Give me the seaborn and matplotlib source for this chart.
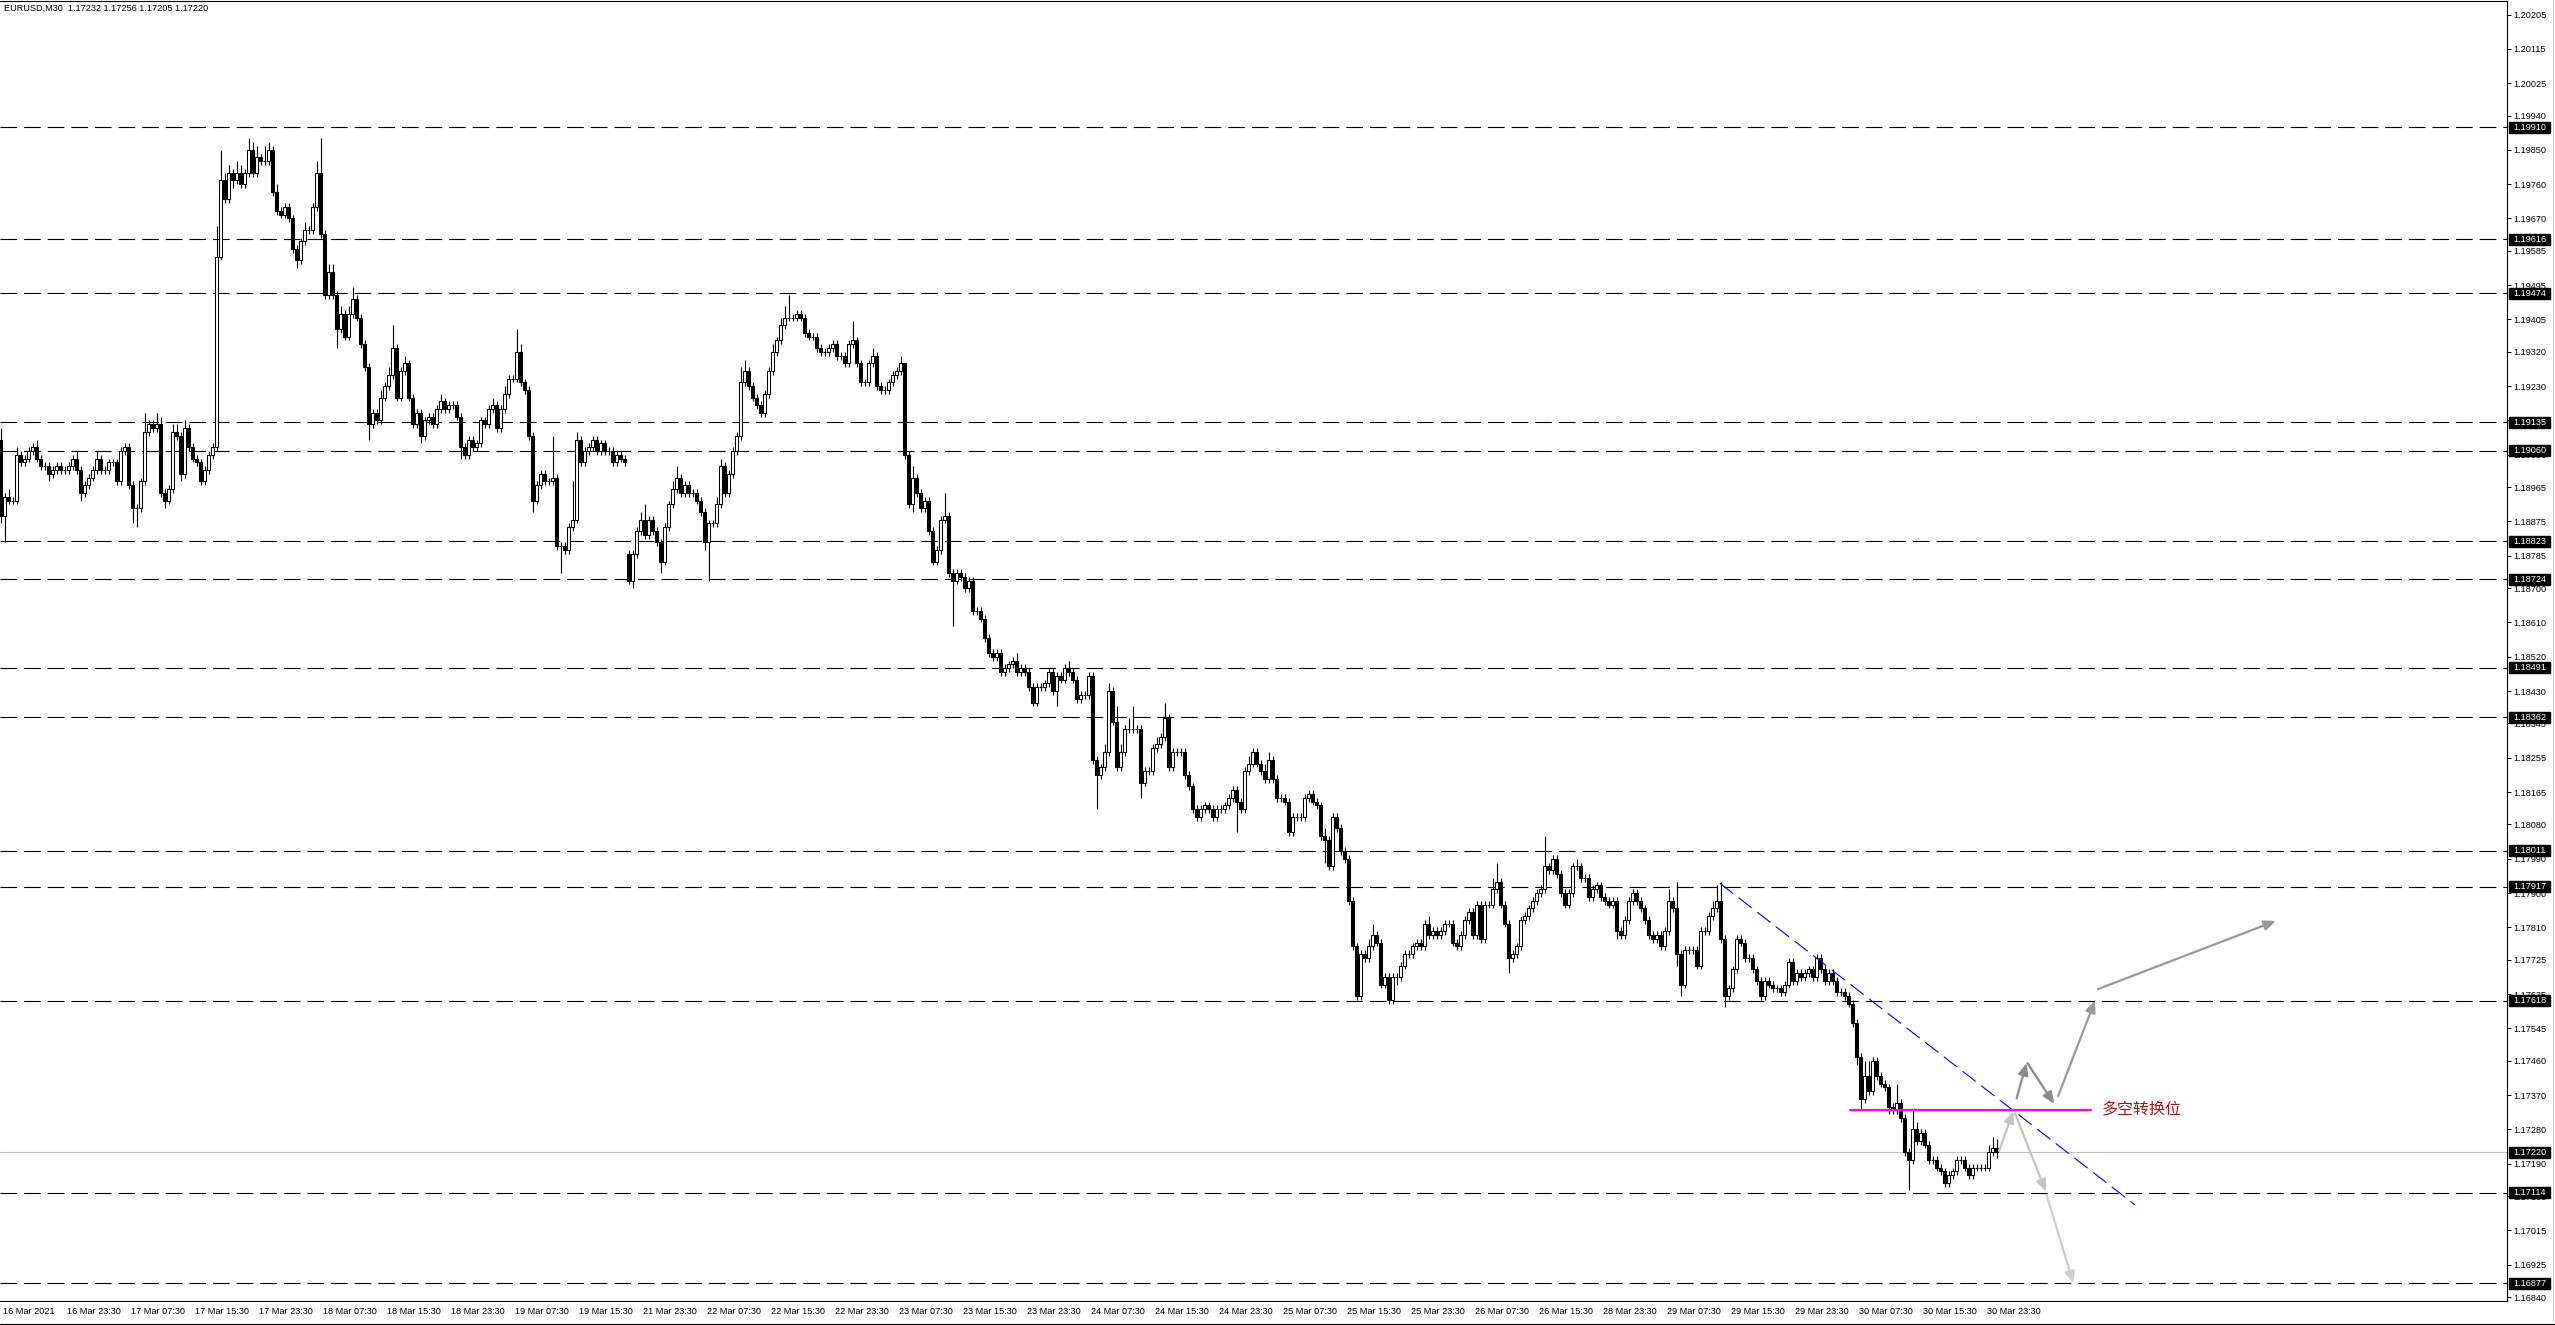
import numpy as np
import pandas as pd
import matplotlib
matplotlib.use("Agg")
import matplotlib.pyplot as plt
import matplotlib.transforms as mtransforms
from matplotlib.patches import Rectangle
from matplotlib.lines import Line2D
import seaborn as sns

sns.set_style("white")
plt.rcParams["font.family"] = ["Liberation Sans", "DejaVu Sans"]
plt.rcParams["lines.scale_dashes"] = False

# ---------------------------------------------------------------
# data: EURUSD M30 closes
# ---------------------------------------------------------------
closes_a = [  # 16 Mar 15:30 ... 22 Mar
    1.1889, 1.1894, 1.1893, 1.1893, 1.1905, 1.1903, 1.1904, 1.1906, 1.1907, 1.1904,
    1.1902, 1.1902, 1.1900, 1.1901, 1.1902, 1.1901, 1.1901, 1.1902, 1.1904, 1.1901,
    1.1895, 1.1897, 1.1899, 1.1901, 1.1904, 1.1901, 1.1901, 1.1903, 1.1903, 1.1898,
    1.1906, 1.1907, 1.1897, 1.1891, 1.1891, 1.1898, 1.1911, 1.1913, 1.1912, 1.1913,
    1.1895, 1.1893, 1.1896, 1.1911, 1.1910, 1.1900, 1.1912, 1.1907, 1.1904, 1.1903,
    1.1898, 1.1901, 1.1905, 1.1907, 1.1957, 1.1977, 1.1972, 1.1979, 1.1977, 1.1979,
    1.1976, 1.1979, 1.1985, 1.1979, 1.1983, 1.1982, 1.1982, 1.1985, 1.1974, 1.1969,
    1.1968, 1.1970, 1.1967, 1.1959, 1.1956, 1.1961, 1.1964, 1.1964, 1.1970, 1.1979,
    1.1963, 1.1947, 1.1953, 1.1947, 1.1938, 1.1942, 1.1936, 1.1942, 1.1946, 1.1941,
    1.1934, 1.1928, 1.1913, 1.1916, 1.1914, 1.1920, 1.1923, 1.1926, 1.1933, 1.1920,
    1.1927, 1.1929, 1.1920, 1.1913, 1.1916, 1.1910, 1.1914, 1.1915, 1.1913, 1.1917,
    1.1919, 1.1917, 1.1918, 1.1918, 1.1915, 1.1907, 1.1905, 1.1909, 1.1907, 1.1908,
    1.1914, 1.1913, 1.1917, 1.1918, 1.1912, 1.1917, 1.1921, 1.1925, 1.1925, 1.1932,
    1.1924, 1.1922, 1.1910, 1.1893, 1.1897, 1.1900, 1.1898, 1.1898, 1.1899, 1.1881,
    1.1881, 1.1880, 1.1886, 1.1888, 1.1909, 1.1903, 1.1906, 1.1907, 1.1909, 1.1906,
    1.1908, 1.1906, 1.1906, 1.1903, 1.1905, 1.1904, 1.1903, 1.1872, 1.1879, 1.1885,
    1.1888, 1.1884, 1.1888, 1.1885, 1.1882, 1.1877, 1.1886, 1.1892, 1.1896, 1.1899,
    1.1895, 1.1897, 1.1895,
]
closes_b = [  # 22 Mar ... 25 Mar
    1.1895, 1.1893, 1.1890, 1.1882, 1.1887, 1.1887, 1.1892, 1.1902, 1.1895, 1.1900,
    1.1906, 1.1910, 1.1924, 1.1927, 1.1923, 1.1920, 1.1918, 1.1916, 1.1921, 1.1927,
    1.1932, 1.1935, 1.1939, 1.1941, 1.1941, 1.1941, 1.1942, 1.1941, 1.1937, 1.1936,
    1.1936, 1.1933, 1.1932, 1.1932, 1.1933, 1.1934, 1.1931, 1.1931, 1.1929, 1.1934,
    1.1935, 1.1929, 1.1924, 1.1924, 1.1929, 1.1931, 1.1923, 1.1922, 1.1922, 1.1924,
    1.1926, 1.1927, 1.1929, 1.1905, 1.1892, 1.1899, 1.1895, 1.1891, 1.1893, 1.1885,
    1.1877, 1.1880, 1.1888, 1.1889, 1.1874, 1.1872, 1.1874, 1.1873, 1.1870, 1.1872,
    1.1864, 1.1864, 1.1862, 1.1857, 1.1853, 1.1852, 1.1853, 1.1848, 1.1849, 1.1850,
    1.1851, 1.1848, 1.1849, 1.1848, 1.1844, 1.1840, 1.1844, 1.1844, 1.1845, 1.1848,
    1.1843, 1.1847, 1.1846, 1.1849, 1.1848, 1.1846, 1.1841, 1.1842, 1.1842, 1.1847,
    1.1825, 1.1821, 1.1823, 1.1827, 1.1843, 1.1835, 1.1823, 1.1827, 1.1833, 1.1833,
    1.1833, 1.1833, 1.1819, 1.1822, 1.1822, 1.1828, 1.1829, 1.1831, 1.1836, 1.1823,
    1.1827, 1.1827, 1.1827, 1.1821, 1.1818, 1.1812, 1.1810, 1.1812, 1.1813, 1.1812,
    1.1810, 1.1812, 1.1812, 1.1813, 1.1815, 1.1817, 1.1814, 1.1812, 1.1822, 1.1824,
    1.1827, 1.1824, 1.1822, 1.1820, 1.1825, 1.1820, 1.1815, 1.1815, 1.1814, 1.1806,
    1.1810, 1.1810, 1.1810, 1.1815, 1.1816, 1.1814, 1.1813, 1.1805, 1.1804, 1.1797,
    1.1810, 1.1807, 1.1801, 1.1799, 1.1788, 1.1776, 1.1763, 1.1774, 1.1773, 1.1776,
]
closes_c = [  # 25 Mar ... 31 Mar
    1.1779, 1.1777, 1.1766, 1.1768, 1.1762, 1.1768, 1.1768, 1.1771, 1.1774, 1.1774,
    1.1776, 1.1777, 1.1776, 1.1782, 1.1779, 1.1780, 1.1779, 1.1780, 1.1782, 1.1782,
    1.1777, 1.1776, 1.1779, 1.1783, 1.1785, 1.1779, 1.1787, 1.1778, 1.1787, 1.1787,
    1.1791, 1.1793, 1.1787, 1.1782, 1.1773, 1.1774, 1.1776, 1.1783, 1.1784, 1.1786,
    1.1788, 1.1790, 1.1791, 1.1797, 1.1796, 1.1799, 1.1795, 1.1790, 1.1787, 1.1790,
    1.1797, 1.1797, 1.1794, 1.1794, 1.1789, 1.1791, 1.1792, 1.1789, 1.1788, 1.1787,
    1.1788, 1.1780, 1.1779, 1.1783, 1.1788, 1.1790, 1.1788, 1.1786, 1.1783, 1.1779,
    1.1778, 1.1779, 1.1776, 1.1780, 1.1788, 1.1786, 1.1774, 1.1766, 1.1775, 1.1775,
    1.1775, 1.1771, 1.1780, 1.1780, 1.1784, 1.1786, 1.1788, 1.1778, 1.1763, 1.1765,
    1.1770, 1.1778, 1.1777, 1.1773, 1.1773, 1.1770, 1.1767, 1.1763, 1.1767, 1.1766,
    1.1765, 1.1765, 1.1764, 1.1766, 1.1772, 1.1767, 1.1769, 1.1768, 1.1769, 1.1770,
    1.1768, 1.1773, 1.1770, 1.1767, 1.1769, 1.1767, 1.1764, 1.1764, 1.1763, 1.1761,
    1.1756, 1.1747, 1.1736, 1.1742, 1.1738, 1.1746, 1.1742, 1.1740, 1.1739, 1.1734,
    1.1733, 1.1735, 1.1731, 1.1722, 1.1720, 1.1728, 1.1725, 1.1727, 1.1724, 1.1720,
    1.1720, 1.1718, 1.1717, 1.1714, 1.1716, 1.1717, 1.1720, 1.1720, 1.1718, 1.1716,
    1.1718, 1.1718, 1.1718, 1.1718, 1.1722, 1.1723, 1.17220,
]
first_open = 1.1909
gap_opens = {157: 1.1879}           # Monday open after the weekend
last_ohlc = (1.17232, 1.17256, 1.17205, 1.17220)

# wick lengths in pips above / below the body
up_wick = [
    3, 1, 2, 1, 2, 1, 1, 1, 1, 2, 1, 1, 1, 1, 1, 1, 1, 1, 1, 2,
    1, 1, 1, 1, 2, 1, 1, 1, 1, 1, 1, 1, 1, 1, 1, 1, 5, 1, 1, 3,
    2, 1, 1, 2, 2, 1, 2, 1, 1, 1, 1, 1, 1, 1, 8, 8, 2, 2, 1, 3,
    2, 1, 3, 2, 3, 1, 4, 2, 1, 2, 1, 1, 1, 1, 1, 1, 2, 1, 1, 3,
    9, 1, 2, 2, 1, 2, 1, 2, 3, 1, 1, 1, 1, 1, 1, 2, 1, 2, 6, 1,
    1, 2, 1, 1, 1, 1, 1, 1, 1, 1, 2, 1, 1, 1, 1, 1, 1, 1, 1, 1,
    1, 1, 1, 2, 1, 1, 2, 1, 1, 6, 2, 1, 1, 1, 1, 1, 1, 1, 11, 1,
    1, 1, 1, 10, 2, 1, 1, 1, 1, 1, 1, 1, 1, 1, 1, 1, 1, 1, 1, 1,
    2, 4, 1, 1, 1, 1, 1, 1, 2, 3, 1, 1, 1, 1, 1, 1, 1, 1, 1, 2,
    2, 1, 1, 1, 1, 4, 3, 1, 1, 1, 1, 1, 1, 2, 1, 2, 3, 6, 1, 1,
    1, 1, 1, 1, 1, 1, 1, 1, 1, 1, 1, 1, 1, 5, 1, 1, 1, 1, 2, 1,
    1, 1, 1, 1, 1, 2, 0, 1, 3, 1, 1, 1, 1, 1, 1, 1, 6, 1, 1, 1,
    1, 1, 1, 1, 1, 1, 1, 1, 1, 1, 1, 1, 1, 1, 2, 1, 1, 1, 1, 1,
    1, 1, 1, 1, 1, 1, 1, 2, 1, 1, 1, 1, 1, 1, 1, 1, 2, 2, 1, 4,
    2, 1, 3, 6, 1, 1, 1, 1, 1, 2, 1, 4, 1, 1, 1, 1, 1, 1, 1, 1,
    1, 1, 1, 1, 1, 1, 1, 1, 1, 1, 1, 1, 2, 1, 1, 1, 2, 2, 1, 1,
    1, 1, 1, 1, 1, 1, 1, 1, 1, 1, 1, 2, 1, 1, 1, 1, 1, 1, 1, 1,
    1, 1, 2, 3, 1, 1, 1, 1, 1, 1, 1, 1, 1, 1, 1, 1, 1, 2, 1, 1,
    1, 1, 1, 1, 1, 1, 1, 1, 1, 1, 1, 1, 1, 3, 5, 1, 1, 1, 1, 1,
    1, 1, 1, 1, 1, 1, 8, 1, 1, 1, 1, 1, 1, 1, 2, 1, 1, 1, 1, 1,
    1, 1, 1, 1, 1, 1, 1, 1, 1, 1, 1, 1, 1, 1, 1, 1, 1, 3, 1, 7,
    1, 1, 1, 1, 1, 1, 1, 1, 2, 4, 5, 1, 1, 1, 1, 1, 1, 1, 1, 1,
    1, 1, 1, 1, 1, 1, 1, 1, 1, 1, 1, 1, 1, 1, 1, 1, 1, 1, 1, 1,
    1, 1, 1, 1, 1, 1, 4, 4, 1, 1, 1, 1, 1, 1, 5, 1, 1, 1, 5, 2,
    1, 1, 1, 1, 1, 1, 1, 1, 1, 1, 1, 1, 1, 1, 1, 1, 1, 2, 3, 2,
]
down_wick = [
    2, 7, 1, 1, 1, 1, 1, 1, 1, 1, 1, 1, 2, 1, 1, 1, 1, 1, 1, 1,
    2, 1, 1, 1, 1, 1, 1, 1, 1, 1, 1, 1, 1, 4, 5, 1, 1, 1, 1, 1,
    1, 2, 1, 1, 1, 2, 1, 1, 1, 1, 1, 1, 1, 1, 1, 1, 1, 1, 2, 1,
    1, 1, 1, 1, 1, 1, 1, 1, 1, 1, 1, 1, 1, 1, 2, 1, 1, 1, 1, 1,
    1, 1, 1, 1, 5, 1, 1, 1, 1, 1, 1, 1, 4, 1, 1, 1, 1, 1, 1, 1,
    1, 1, 1, 1, 1, 2, 1, 1, 1, 1, 1, 1, 1, 1, 1, 3, 1, 1, 1, 1,
    1, 1, 1, 1, 1, 1, 1, 1, 1, 1, 1, 1, 1, 3, 1, 1, 1, 1, 1, 1,
    7, 1, 1, 1, 1, 1, 1, 1, 1, 1, 1, 1, 1, 1, 1, 1, 1, 1, 2, 1,
    1, 1, 1, 1, 1, 3, 1, 1, 1, 1, 1, 1, 1, 1, 1, 1, 2, 10, 1, 1,
    1, 1, 1, 1, 1, 1, 1, 1, 1, 1, 1, 1, 1, 1, 1, 1, 1, 1, 1, 1,
    1, 1, 1, 1, 1, 1, 1, 1, 1, 1, 1, 1, 1, 1, 1, 1, 1, 1, 1, 1,
    1, 1, 1, 1, 1, 1, 1, 1, 2, 1, 1, 1, 1, 1, 1, 1, 1, 1, 12, 1,
    1, 1, 1, 1, 1, 1, 1, 1, 1, 1, 1, 1, 1, 1, 1, 1, 1, 1, 1, 1,
    1, 1, 1, 1, 4, 1, 1, 1, 1, 1, 1, 1, 1, 1, 9, 1, 1, 1, 1, 1,
    1, 1, 1, 1, 1, 4, 1, 1, 1, 1, 1, 1, 1, 1, 1, 1, 1, 1, 1, 1,
    1, 1, 1, 1, 1, 1, 1, 1, 1, 8, 1, 1, 1, 1, 1, 1, 1, 1, 1, 1,
    1, 1, 1, 1, 1, 1, 1, 1, 1, 1, 1, 6, 1, 1, 1, 1, 1, 1, 1, 1,
    1, 1, 1, 1, 1, 1, 1, 1, 1, 2, 1, 1, 1, 1, 1, 1, 1, 1, 1, 1,
    1, 1, 1, 1, 1, 1, 1, 1, 1, 1, 1, 1, 1, 1, 1, 1, 1, 4, 1, 1,
    1, 1, 1, 1, 1, 1, 1, 1, 1, 1, 1, 1, 1, 1, 1, 1, 1, 1, 1, 1,
    1, 1, 1, 1, 2, 1, 1, 1, 1, 1, 1, 1, 1, 1, 1, 1, 1, 1, 1, 3,
    3, 1, 1, 1, 1, 1, 1, 1, 1, 1, 1, 3, 1, 1, 1, 1, 1, 1, 1, 1,
    1, 1, 1, 1, 1, 1, 1, 1, 1, 1, 1, 1, 1, 1, 1, 1, 1, 1, 1, 1,
    1, 1, 1, 1, 2, 3, 1, 1, 1, 1, 1, 1, 2, 1, 1, 1, 1, 8, 1, 1,
    1, 1, 1, 1, 1, 1, 1, 1, 1, 1, 1, 1, 1, 1, 1, 1, 1, 1, 1, 2,
]

# horizontal support / resistance levels
levels = [1.19910, 1.19616, 1.19474, 1.19135, 1.19060, 1.18823, 1.18724,
          1.18491, 1.18362, 1.18011, 1.17917, 1.17618, 1.17114, 1.16877]
bid = 1.17220

price_ticks = [1.20205, 1.20115, 1.20025, 1.19940, 1.19850, 1.19760, 1.19670,
               1.19585, 1.19495, 1.19405, 1.19320, 1.19230, 1.19140, 1.19050,
               1.18965, 1.18875, 1.18785, 1.18700, 1.18610, 1.18520, 1.18430,
               1.18345, 1.18255, 1.18165, 1.18080, 1.17990, 1.17900, 1.17810,
               1.17725, 1.17635, 1.17545, 1.17460, 1.17370, 1.17280, 1.17190,
               1.17105, 1.17015, 1.16925, 1.16840]

time_labels = ["16 Mar 2021", "16 Mar 23:30", "17 Mar 07:30", "17 Mar 15:30",
               "17 Mar 23:30", "18 Mar 07:30", "18 Mar 15:30", "18 Mar 23:30",
               "19 Mar 07:30", "19 Mar 15:30", "21 Mar 23:30", "22 Mar 07:30",
               "22 Mar 15:30", "22 Mar 23:30", "23 Mar 07:30", "23 Mar 15:30",
               "23 Mar 23:30", "24 Mar 07:30", "24 Mar 15:30", "24 Mar 23:30",
               "25 Mar 07:30", "25 Mar 15:30", "25 Mar 23:30", "26 Mar 07:30",
               "26 Mar 15:30", "28 Mar 23:30", "29 Mar 07:30", "29 Mar 15:30",
               "29 Mar 23:30", "30 Mar 07:30", "30 Mar 15:30", "30 Mar 23:30"]
bars_per_label = 16

# drawn objects (bar index, price)
trend_bars = [429.8, 533.6]
trend_prices = [1.17926, 1.17082]
pivot_bars = [462.3, 522.6]
pivot_price = 1.17332
pivot_text = "多空转换位"
arrow_x0 = [499.6, 503.6, 511.5, 504.0, 506.7, 514.4, 524.3]
arrow_y0 = [1.17224, 1.17322, 1.17108, 1.17362, 1.17454, 1.17368, 1.17648]
arrow_x1 = [503.2, 511.3, 518.2, 506.5, 513.4, 523.6, 568.8]
arrow_y1 = [1.17328, 1.17117, 1.16876, 1.17454, 1.17347, 1.17618, 1.17827]
arrow_col = ["#c4c4c4", "#c4c4c4", "#cdcdcd", "#8c8c8c", "#8c8c8c",
             "#999999", "#999999"]

# ---------------------------------------------------------------
closes = closes_a + closes_b + closes_c
opens = [first_open] + closes[:-1]
for k, v in gap_opens.items():
    opens[k] = v
opens[-1] = last_ohlc[0]
df = pd.DataFrame({"o": opens, "c": closes})
df["h"] = df[["o", "c"]].max(axis=1) + np.array(up_wick) * 1e-4
df["l"] = df[["o", "c"]].min(axis=1) - np.array(down_wick) * 1e-4
df.loc[df.index[-1], ["h", "l"]] = last_ohlc[1], last_ohlc[2]
df["bar"] = np.arange(len(df))
bull = df["c"] >= df["o"]

W, H = 2555, 1325
fig = plt.figure(figsize=(W / 100, H / 100), dpi=100)
ax = fig.add_axes([0, 24 / H, 2507 / W, 1300 / H])
ax.set_xlim(-0.175, 626.6)
ax.set_ylim(1.168298, 1.202406)

for lv in levels:
    ax.axhline(lv, color="black", lw=0.8, dashes=(12, 5), zorder=1)
ax.axhline(bid, color="#c0c0c0", lw=0.8, zorder=1)

ax.vlines(df["bar"], df["l"], df["h"], color="black", lw=0.8, zorder=3)
up = df[bull]
dn = df[~bull]
ax.bar(up["bar"], up["c"] - up["o"], bottom=up["o"], width=0.62,
       color="white", edgecolor="black", lw=0.75, zorder=4)
ax.bar(dn["bar"], dn["o"] - dn["c"], bottom=dn["c"], width=0.62,
       color="black", edgecolor="black", lw=0.75, zorder=4)

sns.lineplot(x=trend_bars, y=trend_prices, ax=ax, color="#0000ff",
             lw=0.8, linestyle=(0, (12, 5)), zorder=5)
sns.lineplot(x=pivot_bars, y=[pivot_price] * 2, ax=ax, color="#ff00ff",
             lw=1.6, zorder=5)
ax.text(pivot_bars[1] + 2.7, pivot_price, pivot_text, color="#a01818",
        fontsize=11.5, va="center", ha="left",
        family=["Noto Sans CJK SC", "DejaVu Sans"], zorder=6)

for x0, y0, x1, y1, col in zip(arrow_x0, arrow_y0, arrow_x1, arrow_y1, arrow_col):
    ax.annotate("", xy=(x1, y1), xytext=(x0, y0), zorder=6,
                arrowprops=dict(arrowstyle="-|>,head_length=0.7,head_width=0.3",
                                color=col, lw=1.6, shrinkA=0, shrinkB=0))

# axes / ticks in the MT4 look
ax.spines["left"].set_visible(False)
for s in ["top", "right", "bottom"]:
    ax.spines[s].set_color("black")
    ax.spines[s].set_linewidth(0.8)

ax.yaxis.tick_right()
ax.set_yticks(price_ticks)
ax.set_yticklabels([f"{v:.5f}" for v in price_ticks])
ax.tick_params(axis="y", direction="out", length=3, width=0.7, pad=1.5,
               labelsize=6.6, colors="black")

xt = np.arange(len(time_labels)) * bars_per_label
ax.set_xticks(xt)
ax.set_xticklabels(time_labels)
ax.tick_params(axis="x", direction="out", length=3, width=0.7, pad=1.5,
               labelsize=6.6, colors="black")
shift = mtransforms.ScaledTranslation(2 / 100, 0, fig.dpi_scale_trans)
for lbl in ax.get_xticklabels():
    lbl.set_ha("left")
    lbl.set_transform(lbl.get_transform() + shift)
ax.grid(False)

# price boxes on the right scale
blend = mtransforms.blended_transform_factory(ax.transAxes, ax.transData)
box_h = 11 / 38115
for lv in levels + [bid]:
    ax.add_patch(Rectangle((2509 / 2507, lv - box_h / 2), 41 / 2507, box_h,
                           transform=blend, color="black", clip_on=False, zorder=9))
    ax.text(2513 / 2507, lv, f"{lv:.5f}", transform=blend, color="white",
            fontsize=6.6, va="center", ha="left", clip_on=False, zorder=10)

fig.text(4 / W, 1 - 8 / H, "EURUSD,M30  1.17232 1.17256 1.17205 1.17220",
         fontsize=6.6, va="center", ha="left", color="black")
fig.add_artist(Line2D([2553 / W] * 2, [4 / H, 1], color="#c8c8c8", lw=0.8))
fig.add_artist(Line2D([0, 1], [1 / H] * 2, color="black", lw=0.8))

fig.savefig("out.png", dpi=100)
